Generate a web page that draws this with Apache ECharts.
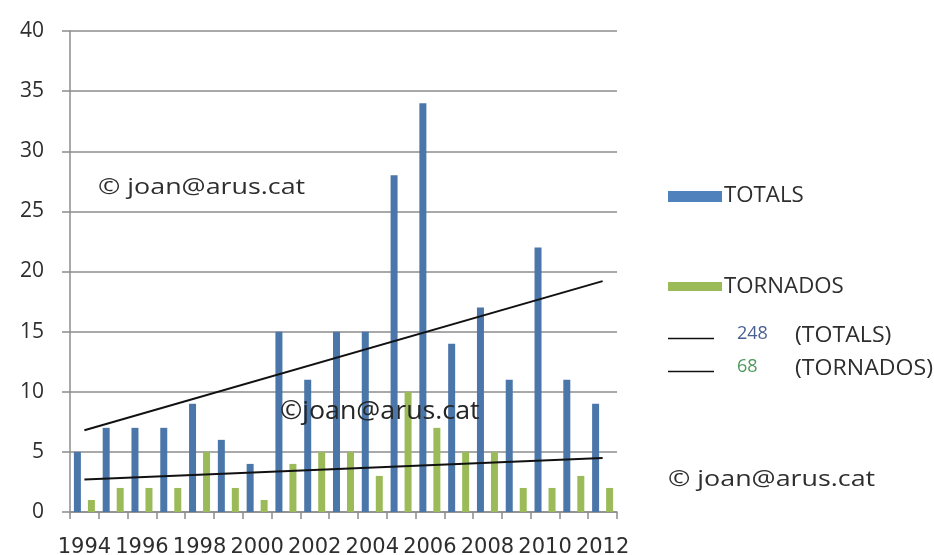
<!DOCTYPE html>
<html>
<head>
<meta charset="utf-8">
<script src="https://cdn.jsdelivr.net/npm/echarts@6/dist/echarts.min.js"></script>
<style>
html,body{margin:0;padding:0;background:#fff;}
#chart{width:934px;height:555px;}
</style>
</head>
<body>
<div id="chart"></div>
<script>
var years = ['1994','1995','1996','1997','1998','1999','2000','2001','2002','2003','2004','2005','2006','2007','2008','2009','2010','2011','2012'];
var totals = [5,7,7,7,9,6,4,15,11,15,15,28,34,14,17,11,22,11,9];
var tornados = [1,2,2,2,5,2,1,4,5,5,3,10,7,5,5,2,2,3,2];
var totalsTrend = [6.8, 19.2];   // trend line values at first and last year
var tornadosTrend = [2.7, 4.5];
var totalsSum = 248;
var tornadosSum = 68;
var watermark = '© joan@arus.cat';
var watermark2 = '©joan@arus.cat';

var FONT = 'Open Sans';
var TXT = '#2e2e2e';

function txt(x, y, s, size, color, sx) {
  return {type: 'text', x: x, y: y, z: 10, scaleX: sx || 1,
    style: {text: s, font: size + 'px "Open Sans"', fill: color || TXT,
            textVerticalAlign: 'middle'}};
}

var chart = echarts.init(document.getElementById('chart'));
var option = {
  backgroundColor: '#ffffff',
  animation: false,
  grid: {left: 70, right: 317, top: 31, bottom: 43, containLabel: false, outerBoundsMode: 'none'},
  xAxis: {
    type: 'category',
    data: years,
    boundaryGap: true,
    axisLine: {show: true, lineStyle: {color: '#8c8c8c', width: 1.5}},
    axisTick: {show: true, interval: 0, length: 7, lineStyle: {color: '#8c8c8c', width: 1.5}},
    axisLabel: {interval: 1, margin: 25, fontSize: 21, fontFamily: 'DejaVu Sans', color: TXT, hideOverlap: false}
  },
  yAxis: {
    type: 'value',
    min: 0, max: 40, interval: 5,
    axisLine: {show: true, lineStyle: {color: '#8c8c8c', width: 1.5}},
    axisTick: {show: true, length: 8, lineStyle: {color: '#8c8c8c', width: 1.5}},
    splitLine: {show: true, lineStyle: {color: '#8c8c8c', width: 1.5}},
    axisLabel: {margin: 26, fontSize: 21, fontFamily: FONT, color: TXT}
  },
  series: [
    {name: 'TOTALS', type: 'bar', data: totals, barWidth: 7, barGap: '100%',
     itemStyle: {color: '#4a76aa'}, z: 2},
    {name: 'TORNADOS', type: 'bar', data: tornados, barWidth: 7,
     itemStyle: {color: '#9bbb59'}, z: 2},
    {name: 'trendTotals', type: 'line', symbol: 'none',
     data: [[years[0], totalsTrend[0]], [years[years.length-1], totalsTrend[1]]],
     lineStyle: {color: '#111', width: 2}, z: 3},
    {name: 'trendTornados', type: 'line', symbol: 'none',
     data: [[years[0], tornadosTrend[0]], [years[years.length-1], tornadosTrend[1]]],
     lineStyle: {color: '#111', width: 2}, z: 3}
  ],
  graphic: [
    txt(98, 188, watermark, 22, TXT, 1.22),
    txt(280, 412, watermark2, 25, '#262626', 1.07),
    txt(668, 480, watermark, 22, TXT, 1.22),
    {type: 'rect', shape: {x: 668, y: 191, width: 54, height: 11}, style: {fill: '#4f81bd'}},
    txt(724, 196, 'TOTALS', 21, TXT, 1.06),
    {type: 'rect', shape: {x: 668, y: 282, width: 54, height: 9}, style: {fill: '#9bbb59'}},
    txt(724, 287, 'TORNADOS', 21, TXT, 1.06),
    {type: 'line', shape: {x1: 668, y1: 338.5, x2: 714, y2: 338.5}, style: {stroke: '#111', lineWidth: 1.5}},
    txt(737, 334, String(totalsSum), 18, '#4a5f94', 1.0),
    txt(795, 336, '(TOTALS)', 21, TXT, 1.1),
    {type: 'line', shape: {x1: 668, y1: 371.5, x2: 714, y2: 371.5}, style: {stroke: '#111', lineWidth: 1.5}},
    txt(737, 367, String(tornadosSum), 18, '#4e9a5a', 1.0),
    txt(795, 369, '(TORNADOS)', 21, TXT, 1.1)
  ]
};
chart.setOption(option);
</script>
</body>
</html>
